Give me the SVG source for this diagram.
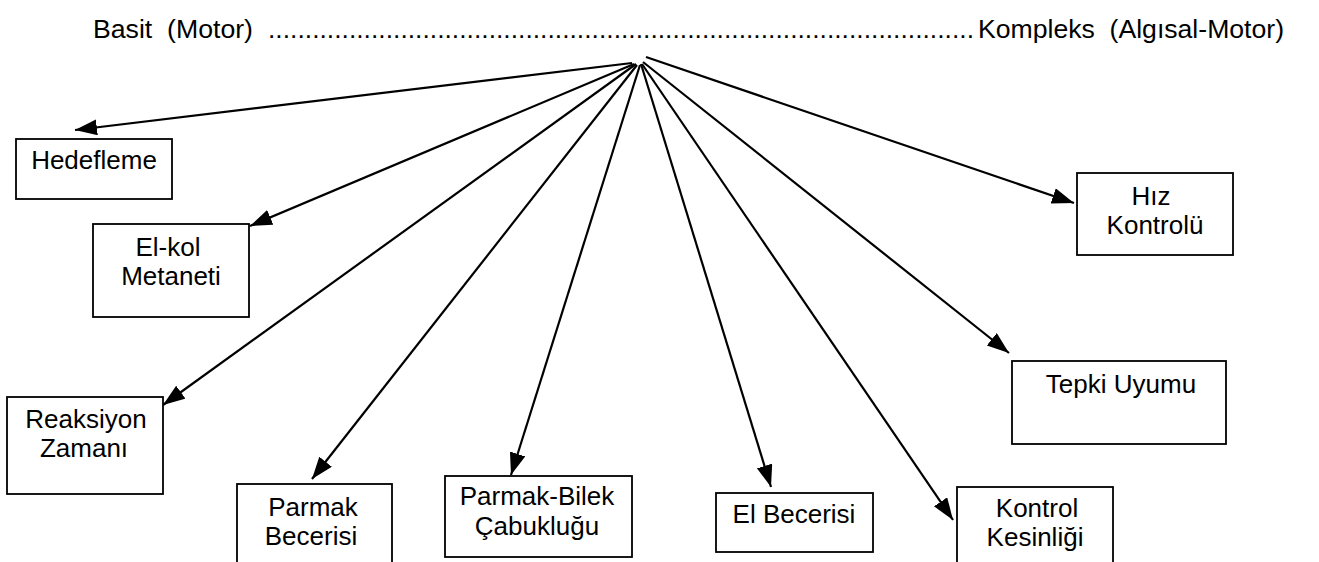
<svg xmlns="http://www.w3.org/2000/svg" width="1319" height="562" viewBox="0 0 1319 562">
<defs>
<style>
text{font-family:"Liberation Sans",Arial,sans-serif;font-size:26px;fill:#000}
.ttl{font-size:25px}
.lbl{text-anchor:middle}
rect{fill:#fff;stroke:#000;stroke-width:1.8}
.c line{stroke:#000;stroke-width:2.2}
</style>
<marker id="ah" markerUnits="userSpaceOnUse" markerWidth="24" markerHeight="18" refX="22" refY="8" orient="auto">
<path d="M0,0 L22,8 L0,16 z" fill="#000"/>
</marker>
</defs>
<rect x="0" y="0" width="1319" height="562" style="stroke:none;fill:#fff"/>
<g id="title">
<text class="ttl" x="93" y="38" xml:space="preserve" textLength="160" lengthAdjust="spacingAndGlyphs">Basit  (Motor)</text>
<text class="ttl" x="268" y="38" textLength="706" lengthAdjust="spacingAndGlyphs">................................................................................................</text>
<text class="ttl" x="978" y="38" xml:space="preserve" textLength="306" lengthAdjust="spacingAndGlyphs">Kompleks  (Algısal-Motor)</text>
</g>
<g id="connectors" class="c">
<line x1="632" y1="63" x2="75" y2="130" marker-end="url(#ah)"/>
<line x1="634" y1="64" x2="250" y2="226" marker-end="url(#ah)"/>
<line x1="636" y1="64" x2="163" y2="405" marker-end="url(#ah)"/>
<line x1="637" y1="65" x2="312" y2="479" marker-end="url(#ah)"/>
<line x1="640" y1="65" x2="511" y2="475" marker-end="url(#ah)"/>
<line x1="641" y1="64" x2="771" y2="487" marker-end="url(#ah)"/>
<line x1="642" y1="64" x2="953" y2="520" marker-end="url(#ah)"/>
<line x1="643" y1="62" x2="1009" y2="353" marker-end="url(#ah)"/>
<line x1="646" y1="57" x2="1074" y2="203" marker-end="url(#ah)"/>
</g>
<g id="n-hedefleme">
<rect x="16" y="139" width="156" height="60"/>
<text class="lbl" x="94" y="169">Hedefleme</text>
</g>
<g id="n-elkol">
<rect x="93" y="224" width="156" height="93"/>
<text class="lbl" x="168" y="256">El-kol</text>
<text class="lbl" x="171" y="285">Metaneti</text>
</g>
<g id="n-reaksiyon">
<rect x="7" y="397" width="156" height="97"/>
<text class="lbl" x="86" y="428">Reaksiyon</text>
<text class="lbl" x="84" y="457">Zamanı</text>
</g>
<g id="n-parmak">
<rect x="237" y="484" width="155" height="100"/>
<text class="lbl" x="313" y="516">Parmak</text>
<text class="lbl" x="311" y="545">Becerisi</text>
</g>
<g id="n-parmakbilek">
<rect x="445" y="476" width="187" height="81"/>
<text class="lbl" x="537" y="505">Parmak-Bilek</text>
<text class="lbl" x="537" y="535">Çabukluğu</text>
</g>
<g id="n-elbecerisi">
<rect x="716" y="493" width="157" height="59"/>
<text class="lbl" x="794" y="523">El Becerisi</text>
</g>
<g id="n-kontrol">
<rect x="957" y="487" width="156" height="100"/>
<text class="lbl" x="1037" y="517">Kontrol</text>
<text class="lbl" x="1035" y="546">Kesinliği</text>
</g>
<g id="n-tepki">
<rect x="1012" y="361" width="214" height="83"/>
<text class="lbl" x="1121" y="393">Tepki Uyumu</text>
</g>
<g id="n-hiz">
<rect x="1077" y="173" width="156" height="82"/>
<text class="lbl" x="1151" y="205">Hız</text>
<text class="lbl" x="1155" y="234">Kontrolü</text>
</g>
</svg>
